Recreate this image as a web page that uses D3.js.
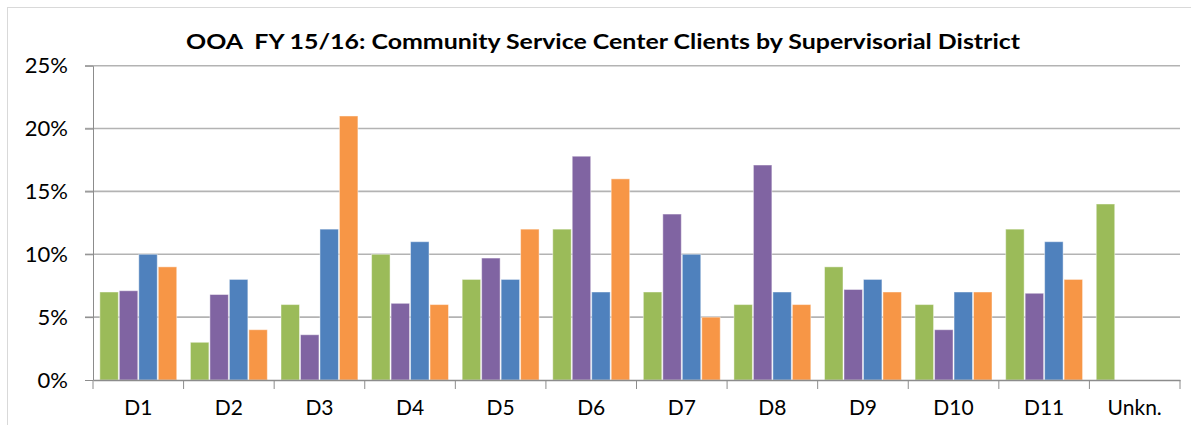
<!DOCTYPE html>
<html>
<head>
<meta charset="utf-8">
<script src="https://cdn.jsdelivr.net/npm/d3@7"></script>
<style>
  body { margin: 0; background: #fff; }
  svg { display: block; font-family: Lato, "Open Sans", sans-serif; }
</style>
</head>
<body>
<svg width="1191" height="425"></svg>
<script>
var districts = ["D1","D2","D3","D4","D5","D6","D7","D8","D9","D10","D11","Unkn."];
var seriesNames = ["s1","s2","s3","s4"];
var greenVals  = [7, 3, 6, 10, 8, 12, 7, 6, 9, 6, 12, 14];
var purpleVals = [7.1, 6.8, 3.6, 6.1, 9.7, 17.8, 13.2, 17.1, 7.2, 4.0, 6.9, null];
var blueVals   = [10, 8, 12, 11, 8, 7, 10, 7, 8, 7, 11, null];
var orangeVals = [9, 4, 21, 6, 12, 16, 5, 6, 7, 7, 8, null];
var yTicks = [0, 5, 10, 15, 20, 25];
var colors = ["#9BBB59", "#8064A2", "#4F81BD", "#F79646"];

var svg = d3.select("svg");

// outer chart border
svg.append("rect")
  .attr("x", 7.5).attr("y", 7.5)
  .attr("width", 1200).attr("height", 440)
  .attr("fill", "none").attr("stroke", "#d9d9d9").attr("stroke-width", 1);

var plotL = 93, plotR = 1180, plotT = 65.7, plotB = 380;

var x0 = d3.scaleBand().domain(districts).range([plotL, plotR]);
var gap = x0.bandwidth() * 0.07;
var x1 = d3.scaleBand().domain(seriesNames).range([gap, x0.bandwidth() - gap]);
var y = d3.scaleLinear().domain([0, 25]).range([plotB, plotT]);

// gridlines
svg.append("g").selectAll("line")
  .data(yTicks.filter(function(d){ return d > 0; }))
  .enter().append("line")
  .attr("x1", plotL - 8).attr("x2", plotR)
  .attr("y1", function(d){ return y(d); })
  .attr("y2", function(d){ return y(d); })
  .attr("stroke", "#b3b3b3").attr("stroke-width", 1.6);

// table built from the arrays
var allVals = [greenVals, purpleVals, blueVals, orangeVals];
var rows = districts.map(function(d, i){
  return { name: d, vals: allVals.map(function(arr, j){ return { key: seriesNames[j], v: arr[i], c: colors[j] }; }) };
});

var groups = svg.append("g").selectAll("g")
  .data(rows).enter().append("g")
  .attr("transform", function(d){ return "translate(" + x0(d.name) + ",0)"; });

groups.selectAll("rect")
  .data(function(d){ return d.vals.filter(function(b){ return b.v != null; }); })
  .enter().append("rect")
  .attr("x", function(b){ return x1(b.key) + 0.5; })
  .attr("width", x1.bandwidth() - 1)
  .attr("y", function(b){ return y(b.v); })
  .attr("height", function(b){ return y(0) - y(b.v); })
  .attr("fill", function(b){ return b.c; })
  .attr("stroke", "rgba(255,255,255,0.45)")
  .attr("stroke-width", 1);

// y axis
var yAxis = svg.append("g")
  .attr("transform", "translate(" + plotL + ",0)")
  .call(d3.axisLeft(y).tickValues(yTicks).tickFormat(function(d){ return d + "%"; })
    .tickSize(8).tickSizeOuter(0).tickPadding(17));
yAxis.select(".domain").attr("stroke", "#8c8c8c");
yAxis.selectAll(".tick line").attr("stroke", "#8c8c8c");
yAxis.selectAll("text").attr("font-size", 22).attr("fill", "#000")
  .attr("font-family", "Lato, sans-serif");

// x axis
var xAxis = svg.append("g")
  .attr("transform", "translate(0," + plotB + ")")
  .call(d3.axisBottom(x0).tickSize(0).tickSizeOuter(0).tickPadding(20));
xAxis.select(".domain").attr("stroke", "#8c8c8c").attr("stroke-width", 1.3);
xAxis.selectAll("text").attr("font-size", 21).attr("fill", "#000")
  .attr("font-family", "Lato, sans-serif");

// category separator ticks
svg.append("g").selectAll("line")
  .data(districts.concat(["end"]))
  .enter().append("line")
  .attr("x1", function(d){ return d === "end" ? plotR : x0(d); })
  .attr("x2", function(d){ return d === "end" ? plotR : x0(d); })
  .attr("y1", plotB).attr("y2", plotB + 9)
  .attr("stroke", "#8c8c8c").attr("stroke-width", 1);

// title
svg.append("text")
  .attr("x", 603).attr("y", 48.5)
  .attr("text-anchor", "middle")
  .attr("font-size", 20).attr("font-weight", "bold")
  .attr("font-family", "Lato, sans-serif")
  .attr("textLength", 834).attr("lengthAdjust", "spacingAndGlyphs")
  .style("white-space", "pre")
  .text("OOA  FY 15/16: Community Service Center Clients by Supervisorial District");
</script>
</body>
</html>
